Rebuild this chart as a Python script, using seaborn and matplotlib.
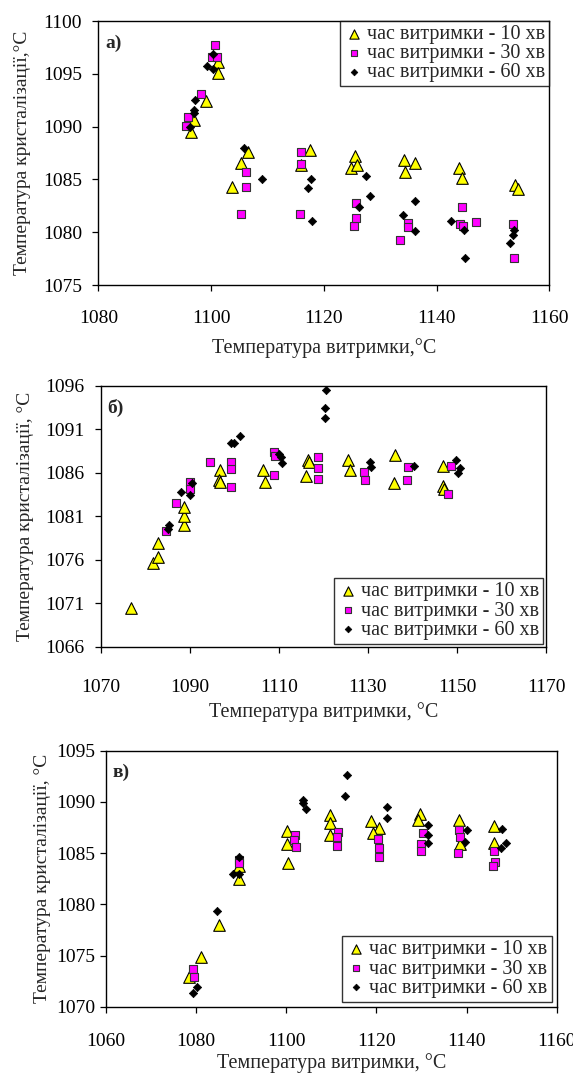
import numpy as np
import pandas as pd
import matplotlib
matplotlib.use("Agg")
import matplotlib.pyplot as plt
import seaborn as sns

# --- data: panel а) ---
a_x10 = [1096.4, 1097.0, 1099.1, 1101.2, 1101.2, 1103.7, 1105.4, 1106.5, 1116.0, 1117.6,
         1124.9, 1125.6, 1125.9, 1134.3, 1134.4, 1136.2, 1143.9, 1144.5, 1154.0, 1154.5]
a_y10 = [1089.5, 1090.6, 1092.4, 1096.1, 1095.1, 1084.3, 1086.6, 1087.6, 1086.4, 1087.8,
         1086.1, 1087.2, 1086.4, 1086.8, 1085.7, 1086.6, 1086.1, 1085.1, 1084.5, 1084.1]
a_x30 = [1095.6, 1095.9, 1098.2, 1100.1, 1100.7, 1101.0, 1105.3, 1106.2, 1106.2, 1115.7,
         1115.9, 1116.0, 1125.3, 1125.7, 1125.7, 1133.6, 1134.9, 1134.9, 1144.2, 1144.5,
         1144.7, 1147.0, 1153.6, 1153.7]
a_y30 = [1090.1, 1090.9, 1093.1, 1096.6, 1097.7, 1096.6, 1081.7, 1085.7, 1084.3, 1081.7,
         1086.5, 1087.6, 1080.6, 1081.3, 1082.8, 1079.3, 1080.9, 1080.5, 1080.8, 1082.4,
         1080.6, 1081.0, 1080.8, 1077.6]
a_x60 = [1096.2, 1097.0, 1097.0, 1097.2, 1099.2, 1100.4, 1100.4, 1105.9, 1109.0, 1117.2,
         1117.8, 1117.9, 1126.2, 1127.5, 1128.2, 1134.0, 1136.1, 1136.2, 1142.6, 1144.8,
         1145.0, 1153.1, 1153.6, 1153.7]
a_y60 = [1090.0, 1091.3, 1091.6, 1092.5, 1095.7, 1095.5, 1096.9, 1088.0, 1085.0, 1084.2,
         1085.0, 1081.1, 1082.4, 1085.3, 1083.4, 1081.6, 1080.1, 1083.0, 1081.1, 1080.2,
         1077.6, 1079.0, 1079.7, 1080.2]

# --- data: panel б) ---
b_x10 = [1076.7, 1081.8, 1082.8, 1082.8, 1088.6, 1088.6, 1088.6, 1096.8, 1096.6, 1096.9,
         1106.5, 1106.8, 1116.1, 1116.6, 1116.8, 1125.5, 1126.0, 1136.2, 1135.9, 1146.8,
         1146.8, 1147.1]
b_y10 = [1070.4, 1075.6, 1076.3, 1077.9, 1080.0, 1081.0, 1082.1, 1086.3, 1085.2, 1085.0,
         1086.3, 1085.0, 1085.6, 1087.5, 1087.3, 1087.5, 1086.3, 1088.1, 1084.8, 1086.8,
         1084.5, 1084.2]
b_x30 = [1084.6, 1086.8, 1090.1, 1090.1, 1094.6, 1099.2, 1099.2, 1099.3, 1109.0, 1109.0,
         1109.1, 1118.9, 1118.9, 1118.9, 1129.2, 1129.3, 1139.1, 1138.7, 1148.6, 1148.0]
b_y30 = [1079.3, 1082.5, 1084.9, 1084.2, 1087.3, 1087.3, 1086.5, 1084.4, 1085.8, 1088.4,
         1087.9, 1087.8, 1086.6, 1085.3, 1086.1, 1085.2, 1086.7, 1085.2, 1086.8, 1083.6]
b_x60 = [1085.2, 1085.3, 1088.0, 1090.1, 1090.6, 1099.3, 1099.9, 1101.3, 1110.1, 1110.4,
         1110.8, 1120.5, 1120.4, 1120.4, 1130.5, 1130.6, 1140.3, 1149.9, 1150.7, 1150.3]
b_y60 = [1079.6, 1080.0, 1083.8, 1083.4, 1084.8, 1089.4, 1089.4, 1090.3, 1088.2, 1087.8,
         1087.1, 1095.5, 1093.5, 1092.3, 1087.2, 1086.7, 1086.8, 1087.5, 1086.6, 1086.0]

# --- data: panel в) ---
c_x10 = [1078.5, 1081.0, 1085.1, 1089.6, 1089.6, 1100.1, 1100.1, 1100.3, 1109.8, 1109.6,
         1109.8, 1118.9, 1120.6, 1119.3, 1129.7, 1129.3, 1138.4, 1138.6, 1146.1, 1146.1]
c_y10 = [1072.9, 1074.9, 1078.0, 1083.7, 1082.5, 1087.2, 1085.9, 1084.0, 1088.7, 1087.9,
         1086.8, 1088.1, 1087.5, 1087.0, 1088.8, 1088.2, 1088.2, 1085.9, 1087.6, 1086.0]
c_x30 = [1079.4, 1079.5, 1089.4, 1089.6, 1101.9, 1101.8, 1102.2, 1111.4, 1111.2, 1111.3,
         1120.4, 1120.6, 1120.6, 1130.4, 1130.0, 1129.8, 1138.4, 1138.6, 1138.2, 1146.1,
         1146.2, 1145.8]
c_y30 = [1073.7, 1072.9, 1084.3, 1084.0, 1086.8, 1086.3, 1085.6, 1087.1, 1086.6, 1085.7,
         1086.4, 1085.5, 1084.6, 1087.0, 1085.9, 1085.2, 1087.3, 1086.6, 1085.0, 1085.2,
         1084.1, 1083.7]
c_x60 = [1079.2, 1080.1, 1084.7, 1088.1, 1089.4, 1089.6, 1103.6, 1103.6, 1104.4, 1113.0,
         1113.5, 1122.3, 1122.4, 1131.5, 1131.5, 1131.5, 1140.0, 1139.7, 1147.8, 1148.8,
         1147.7]
c_y60 = [1071.3, 1071.95, 1079.3, 1083.0, 1083.0, 1084.6, 1090.2, 1089.9, 1089.3, 1090.6,
         1092.6, 1089.5, 1088.4, 1087.7, 1086.8, 1086.0, 1087.3, 1086.1, 1087.4, 1086.0,
         1085.5]

series_labels = ["час витримки - 10 хв", "час витримки - 30 хв", "час витримки - 60 хв"]
panel_tags = ["а)", "б)", "в)"]

sns.set_style("ticks")
plt.rcParams["font.family"] = ["Liberation Serif", "DejaVu Serif"]
plt.rcParams["xtick.direction"] = "out"
plt.rcParams["ytick.direction"] = "out"

W, H = 573, 1077
fig = plt.figure(figsize=(W / 100, H / 100), dpi=100)


def px_rect(left, top, right, bottom):
    return [left / W, 1 - bottom / H, (right - left) / W, (bottom - top) / H]


panels = [
    dict(rect=px_rect(98.3, 21, 549.3, 285),
         data=[(a_x10, a_y10), (a_x30, a_y30), (a_x60, a_y60)],
         xlim=(1080, 1160), xticks=np.arange(1080, 1161, 20),
         ylim=(1075, 1100), yticks=np.arange(1075, 1101, 5),
         xlabel="Температура витримки,°C", ylabel="Температура кристалізації,°C",
         xpad=14.3, ypad=7.8, xlp=7.6, ylp=8.3,
         legend_loc="upper right", legend_pad=0.0),
    dict(rect=px_rect(100.7, 386, 546, 646.7),
         data=[(b_x10, b_y10), (b_x30, b_y30), (b_x60, b_y60)],
         xlim=(1070, 1170), xticks=np.arange(1070, 1171, 20),
         ylim=(1066, 1096), yticks=np.arange(1066, 1097, 5),
         xlabel="Температура витримки, °C", ylabel="Температура кристалізації, °C",
         xpad=19.3, ypad=7.8, xlp=4, ylp=8.3,
         legend_loc="lower right", legend_pad=0.15),
    dict(rect=px_rect(106, 750.7, 556.7, 1006.7),
         data=[(c_x10, c_y10), (c_x30, c_y30), (c_x60, c_y60)],
         xlim=(1060, 1160), xticks=np.arange(1060, 1161, 20),
         ylim=(1070, 1095), yticks=np.arange(1070, 1096, 5),
         xlabel="Температура витримки, °C", ylabel="Температура кристалізації, °C",
         xpad=15.0, ypad=3.5, xlp=2.0, ylp=4,
         legend_loc="lower right", legend_pad=0.25),
]

styles = [
    dict(marker="^", color="#FFFF00", edgecolor="black", s=70, linewidth=0.8),
    dict(marker="s", color="#FF00FF", edgecolor="#333333", s=32, linewidth=0.8),
    dict(marker="D", color="black", edgecolor="black", s=18, linewidth=0.5),
]

for tag, p in zip(panel_tags, panels):
    ax = fig.add_axes(p["rect"])
    for (xs, ys), st, lab in zip(p["data"], styles, series_labels):
        sns.scatterplot(x=xs, y=ys, ax=ax, label=lab, zorder=3, **st)

    ax.set_xlim(*p["xlim"])
    ax.set_ylim(*p["ylim"])
    ax.set_xticks(p["xticks"])
    ax.set_yticks(p["yticks"])
    ax.tick_params(labelsize=14, length=4, width=0.9, colors="black")
    ax.tick_params(axis="x", pad=p["xpad"])
    ax.tick_params(axis="y", pad=p["ypad"])
    ax.set_xlabel(p["xlabel"], fontsize=14.5, labelpad=p["xlp"])
    ax.set_ylabel(p["ylabel"], fontsize=14, labelpad=p["ylp"])
    for sp in ax.spines.values():
        sp.set_visible(True)
        sp.set_linewidth(1.0)
        sp.set_color("black")

    ax.text(0.015, 0.95, tag, transform=ax.transAxes, fontsize=14,
            fontweight="bold", va="top", ha="left")

    leg = ax.legend(loc=p["legend_loc"], fontsize=14.5, frameon=True, fancybox=False,
                    borderaxespad=p["legend_pad"], handletextpad=0.15,
                    handlelength=1.0, borderpad=0.2, labelspacing=0.0,
                    markerscale=0.8)
    leg.get_frame().set_edgecolor("black")
    leg.get_frame().set_linewidth(1.0)

fig.savefig("out.png", dpi=100)
